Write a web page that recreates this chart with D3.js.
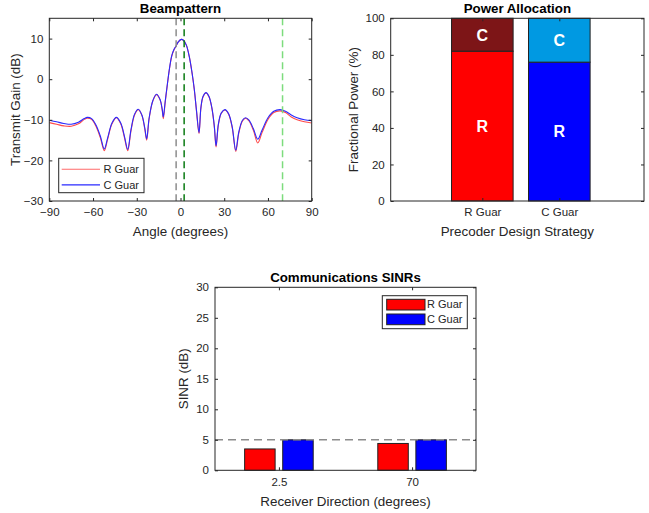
<!DOCTYPE html>
<html>
<head>
<meta charset="utf-8">
<script src="https://cdn.jsdelivr.net/npm/d3@7"></script>
<style>
  html, body { margin: 0; padding: 0; background: #fff; }
  svg { display: block; font-family: "Liberation Sans", Arial, Helvetica, sans-serif; }
</style>
</head>
<body>
<svg id="fig" width="649" height="513"></svg>
<script>
// ---- Beampattern (transmit gain in dB versus angle) ----
const angles = [-90, -85, -80, -75, -70, -66, -64, -61, -58, -55, -52.3, -50, -47, -44, -41, -38.5, -36.2, -34,
  -31.5, -29, -26.5, -24.5, -23.2, -21.5, -19, -16.5, -14, -12.5, -11.8, -10.5, -9, -7.5, -6, -4.5, -3, -1.5,
  0.5, 2, 4, 6, 8, 9.5, 11, 12.7, 14, 15.5, 17.5, 19.5, 21.5, 23.2, 24.4, 26, 28, 30.5, 33, 35.5, 37.9, 40,
  42.5, 44.7, 47, 50, 53, 56, 60, 64, 68.3, 72, 76, 80, 85, 90];
const gainRGuar = [-10.7, -11.1, -11.5, -11.6, -11.0, -9.9, -9.6, -9.9, -11.6, -14.4, -17.6, -14.8, -11.0, -9.5, -11.0, -14.3, -17.6, -12.8,
  -8.8, -7.5, -8.9, -12.3, -15.0, -9.7, -5.4, -3.8, -5.1, -7.8, -9.7, -5.7, -1.3, 2.7, 5.7, 7.2, 8.2, 9.2,
  9.8, 9.6, 8.4, 5.6, 1.3, -2.7, -8.0, -13.4, -7.1, -4.3, -3.4, -4.3, -7.1, -11.8, -16.7, -11.2, -8.4, -7.6, -8.6, -12.0, -17.8, -13.3,
  -10.3, -9.6, -10.3, -12.6, -15.7, -13.1, -9.9, -8.2, -7.8, -8.2, -9.3, -10.0, -10.5, -10.8];
const gainCGuar = [-10.1, -10.5, -10.9, -11.1, -10.6, -9.7, -9.4, -9.7, -11.3, -14.0, -17.2, -14.5, -10.8, -9.4, -10.8, -14.0, -17.3, -12.5,
  -8.6, -7.4, -8.8, -12.0, -14.7, -9.5, -5.3, -3.7, -5.0, -7.5, -9.3, -5.5, -1.2, 2.8, 5.8, 7.3, 8.2, 9.2,
  9.8, 9.6, 8.4, 5.6, 1.4, -2.6, -7.8, -13.2, -7.0, -4.2, -3.3, -4.2, -7.0, -11.5, -16.4, -11.0, -8.3, -7.5, -8.5, -11.8, -17.5, -13.0,
  -10.1, -9.5, -10.1, -12.2, -14.8, -12.5, -9.5, -7.9, -7.5, -7.9, -8.8, -9.5, -10.0, -10.2];
const markerAngles = [-3, 2.5, 70];
const markerColors = ["#8c8c8c", "#0a7a12", "#7ddc7d"];
const angleTicks = [-90, -60, -30, 0, 30, 60, 90];
const gainTicks = [-30, -20, -10, 0, 10];

// ---- Power allocation (stacked percentages) ----
const strategies = ["R Guar", "C Guar"];
const radarShare = [82, 76];
const commShare = [18, 24];
const powerTicks = [0, 20, 40, 60, 80, 100];

// ---- Communications SINRs ----
const rxDirections = ["2.5", "70"];
const sinrRGuar = [3.5, 4.4];
const sinrCGuar = [5.0, 5.0];
const sinrTarget = 5;
const sinrTicks = [0, 5, 10, 15, 20, 25, 30];

const seriesNames = ["R Guar", "C Guar"];
const ink = "#262626";
const svg = d3.select("#fig");
svg.append("rect").attr("width", 649).attr("height", 513).attr("fill", "#fff");

const TICK = 3;
const TICK_FONT = 11.5;
const LEGEND_FONT = 11;
const LABEL_FONT = 13.4;
const num = d3.format("");   // uses the typographic minus sign

function frame(g, box) {
  g.append("rect")
    .attr("x", box.left).attr("y", box.top)
    .attr("width", box.right - box.left).attr("height", box.bottom - box.top)
    .attr("fill", "none").attr("stroke", ink).attr("stroke-width", 1);
}

function axes(g, x, y, box, xt, yt, xfmt, xpad) {
  const ax = g.append("g").attr("transform", `translate(0,${box.bottom})`)
    .call(d3.axisBottom(x).tickValues(xt).tickSize(-TICK).tickPadding(xpad).tickFormat(xfmt || num));
  const ax2 = g.append("g").attr("transform", `translate(0,${box.top})`)
    .call(d3.axisTop(x).tickValues(xt).tickSize(-TICK).tickFormat(""));
  const ay = g.append("g").attr("transform", `translate(${box.left},0)`)
    .call(d3.axisLeft(y).tickValues(yt).tickSize(-TICK).tickPadding(6).tickFormat(num));
  const ay2 = g.append("g").attr("transform", `translate(${box.right},0)`)
    .call(d3.axisRight(y).tickValues(yt).tickSize(-TICK).tickFormat(""));
  [ax, ax2, ay, ay2].forEach(a => {
    a.select(".domain").remove();
    a.selectAll("text").attr("font-size", TICK_FONT).attr("fill", ink);
    a.attr("font-family", null);
    a.selectAll("line").attr("stroke", ink);
  });
}

function labels(g, box, title, xl, yl, ylx, xly) {
  const cx = (box.left + box.right) / 2, cy = (box.top + box.bottom) / 2;
  g.append("text").attr("x", cx).attr("y", box.top - 5.8).attr("text-anchor", "middle")
    .attr("font-size", 13.3).attr("font-weight", "bold").attr("fill", "#000").text(title);
  g.append("text").attr("x", cx).attr("y", xly).attr("text-anchor", "middle")
    .attr("font-size", LABEL_FONT).attr("fill", ink).text(xl);
  g.append("text").attr("transform", `translate(${ylx},${cy}) rotate(-90)`).attr("text-anchor", "middle")
    .attr("font-size", LABEL_FONT).attr("fill", ink).text(yl);
}

// ===== Panel 1: Beampattern =====
{
  const box = { left: 49.3, right: 311.7, top: 18.3, bottom: 201 };
  const g = svg.append("g");
  const x = d3.scaleLinear().domain([-90, 90]).range([box.left, box.right]);
  const y = d3.scaleLinear().domain([-30, 15]).range([box.bottom, box.top]);
  g.append("clipPath").attr("id", "clipBP").append("rect")
    .attr("x", box.left).attr("y", box.top).attr("width", box.right - box.left).attr("height", box.bottom - box.top);
  const pts = angles.map((a, i) => ({ a, r: gainRGuar[i], c: gainCGuar[i] }));
  const line = key => d3.line().x(d => x(d.a)).y(d => y(d[key])).curve(d3.curveCatmullRom.alpha(0.5));
  const plot = g.append("g").attr("clip-path", "url(#clipBP)");
  plot.append("path").datum(pts).attr("d", line("r")).attr("fill", "none").attr("stroke", "#ff4a4a").attr("stroke-width", 1.1);
  plot.append("path").datum(pts).attr("d", line("c")).attr("fill", "none").attr("stroke", "#2a2aff").attr("stroke-width", 1.1);
  markerAngles.forEach((a, i) => {
    plot.append("line").attr("x1", x(a)).attr("x2", x(a)).attr("y1", box.top).attr("y2", box.bottom)
      .attr("stroke", markerColors[i]).attr("stroke-width", 1.5).attr("stroke-dasharray", "7,4");
  });
  axes(g, x, y, box, angleTicks, gainTicks, null, 7.2);
  frame(g, box);
  labels(g, box, "Beampattern", "Angle (degrees)", "Transmit Gain (dB)", 19.5, 236);
  // legend
  const lg = g.append("g");
  lg.append("rect").attr("x", 58.7).attr("y", 158.3).attr("width", 85.3).attr("height", 34.4)
    .attr("fill", "#fff").attr("stroke", ink).attr("stroke-width", 1);
  const lcol = ["#ff6a6a", "#2a2aff"];
  seriesNames.forEach((n, i) => {
    const yy = 169.3 + i * 15.6;
    lg.append("line").attr("x1", 61.7).attr("x2", 100).attr("y1", yy).attr("y2", yy).attr("stroke", lcol[i]).attr("stroke-width", 1.1);
    lg.append("text").attr("x", 103.5).attr("y", yy + 4).attr("font-size", LEGEND_FONT).attr("fill", ink).text(n);
  });
}

// ===== Panel 2: Power Allocation =====
{
  const box = { left: 390.7, right: 644, top: 18.3, bottom: 201 };
  const g = svg.append("g");
  const x = d3.scaleLinear().domain([-0.19, 3.10]).range([box.left, box.right]);
  const y = d3.scaleLinear().domain([0, 100]).range([box.bottom, box.top]);
  const bw = 0.8;
  const lower = ["#ff0000", "#0000ff"];
  const upper = ["#7d1517", "#0099e2"];
  strategies.forEach((s, i) => {
    const cx = i + 1;
    const r = radarShare[i], c = commShare[i];
    g.append("rect").attr("x", x(cx - bw / 2)).attr("width", x(cx + bw / 2) - x(cx - bw / 2))
      .attr("y", y(r)).attr("height", y(0) - y(r)).attr("fill", lower[i]).attr("stroke", "#222").attr("stroke-width", 1);
    g.append("rect").attr("x", x(cx - bw / 2)).attr("width", x(cx + bw / 2) - x(cx - bw / 2))
      .attr("y", y(r + c)).attr("height", y(r) - y(r + c)).attr("fill", upper[i]).attr("stroke", "#222").attr("stroke-width", 1);
    g.append("text").attr("x", x(cx)).attr("y", y(r / 2)).attr("dy", "0.36em").attr("text-anchor", "middle")
      .attr("font-size", 16).attr("font-weight", "bold").attr("fill", "#fff").text("R");
    g.append("text").attr("x", x(cx)).attr("y", y(r + c / 2)).attr("dy", "0.36em").attr("text-anchor", "middle")
      .attr("font-size", 16).attr("font-weight", "bold").attr("fill", "#fff").text("C");
  });
  axes(g, x, y, box, [1, 2], powerTicks, (d, i) => strategies[i], 7.2);
  frame(g, box);
  labels(g, box, "Power Allocation", "Precoder Design Strategy", "Fractional Power (%)", 358, 236);
}

// ===== Panel 3: Communications SINRs =====
{
  const box = { left: 215, right: 476, top: 287.3, bottom: 470.3 };
  const g = svg.append("g");
  const x = d3.scaleLinear().domain([0.52, 2.48]).range([box.left, box.right]);
  const y = d3.scaleLinear().domain([0, 30]).range([box.bottom, box.top]);
  const bw = 0.229, off = 0.143;
  const fills = ["#ff0000", "#0000ff"];
  const series = [sinrRGuar, sinrCGuar];
  series.forEach((vals, s) => {
    vals.forEach((v, i) => {
      const cx = i + 1 + (s === 0 ? -off : off);
      g.append("rect").attr("x", x(cx - bw / 2)).attr("width", x(cx + bw / 2) - x(cx - bw / 2))
        .attr("y", y(v)).attr("height", y(0) - y(v)).attr("fill", fills[s]).attr("stroke", "#222").attr("stroke-width", 1);
    });
  });
  g.append("line").attr("x1", box.left).attr("x2", box.right).attr("y1", y(sinrTarget)).attr("y2", y(sinrTarget))
    .attr("stroke", "#8c8c8c").attr("stroke-width", 1.5).attr("stroke-dasharray", "8,5");
  axes(g, x, y, box, [1, 2], sinrTicks, (d, i) => rxDirections[i], 7.8);
  frame(g, box);
  labels(g, box, "Communications SINRs", "Receiver Direction (degrees)", "SINR (dB)", 188, 506);
  const lg = g.append("g");
  lg.append("rect").attr("x", 382.3).attr("y", 295.7).attr("width", 85).attr("height", 33)
    .attr("fill", "#fff").attr("stroke", ink).attr("stroke-width", 1);
  seriesNames.forEach((n, i) => {
    const yy = 299.3 + i * 14.7;
    lg.append("rect").attr("x", 386.7).attr("y", yy).attr("width", 38.3).attr("height", 10.7)
      .attr("fill", fills[i]).attr("stroke", "#222").attr("stroke-width", 1);
    lg.append("text").attr("x", 427).attr("y", yy + 9).attr("font-size", LEGEND_FONT).attr("fill", ink).text(n);
  });
}
</script>
</body>
</html>
